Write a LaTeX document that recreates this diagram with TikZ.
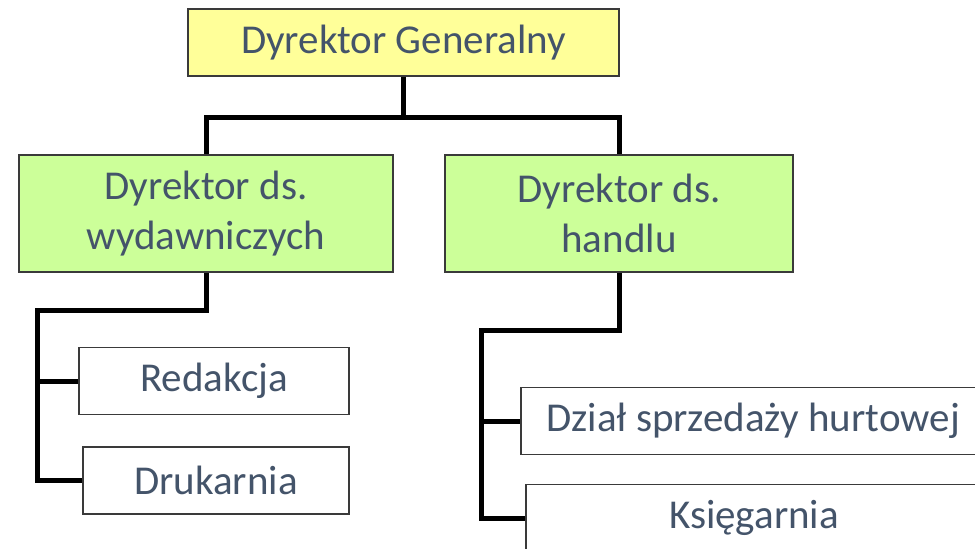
\documentclass[tikz,border=0pt]{standalone}
\usepackage{fontspec}
\setmainfont{Carlito}
\definecolor{txt}{HTML}{44546A}
\definecolor{boxline}{HTML}{3A3A3A}
\definecolor{topfill}{HTML}{FFFF99}
\definecolor{midfill}{HTML}{CCFF99}
\begin{document}
\begin{tikzpicture}[x=1pt,y=-1pt,
  box/.style={draw=boxline, line width=1.5pt, rectangle, inner sep=0pt,
    text=txt, font=\fontsize{41}{50}\selectfont, align=center},
  conn/.style={draw=black, line width=5pt}]
\useasboundingbox (0,0) rectangle (975,549);
\clip (0,0) rectangle (975,549);

% boxes
\node[box, fill=topfill, minimum width=431pt, minimum height=67pt] (gen) at (403.5,42.5) {Dyrektor Generalny};
\node[box, fill=midfill, minimum width=374pt, minimum height=117pt] (wyd) at (206,213.5) {Dyrektor ds.\\wydawniczych};
\node[box, fill=midfill, minimum width=348pt, minimum height=117pt] (han) at (619,213.5) {Dyrektor ds.\\handlu};
\node[box, fill=white, minimum width=270pt, minimum height=67pt] (red) at (214,381) {Redakcja};
\node[box, fill=white, minimum width=266pt, minimum height=67pt] (druk) at (216,480.5) {Drukarnia};
\node[box, fill=white, minimum width=464pt, minimum height=67pt] (dzial) at (753,421) {Dział sprzedaży hurtowej};
\node[box, fill=white, minimum width=456pt, minimum height=67pt] (ksieg) at (754,518) {Księgarnia};

% junction points
\coordinate (j1) at (403.5,117);
\coordinate (lb) at (37,310);
\coordinate (rb) at (481,330);

% connectors
\draw[conn] (gen.south) -- (j1);
\draw[conn] (wyd.north) |- (j1) -| (han.north);
\draw[conn] (wyd.south) |- (lb) |- (druk.west);
\draw[conn] (lb |- red.west) -- (red.west);
\draw[conn] (han.south) |- (rb) |- (ksieg.west);
\draw[conn] (rb |- dzial.west) -- (dzial.west);
\end{tikzpicture}
\end{document}
